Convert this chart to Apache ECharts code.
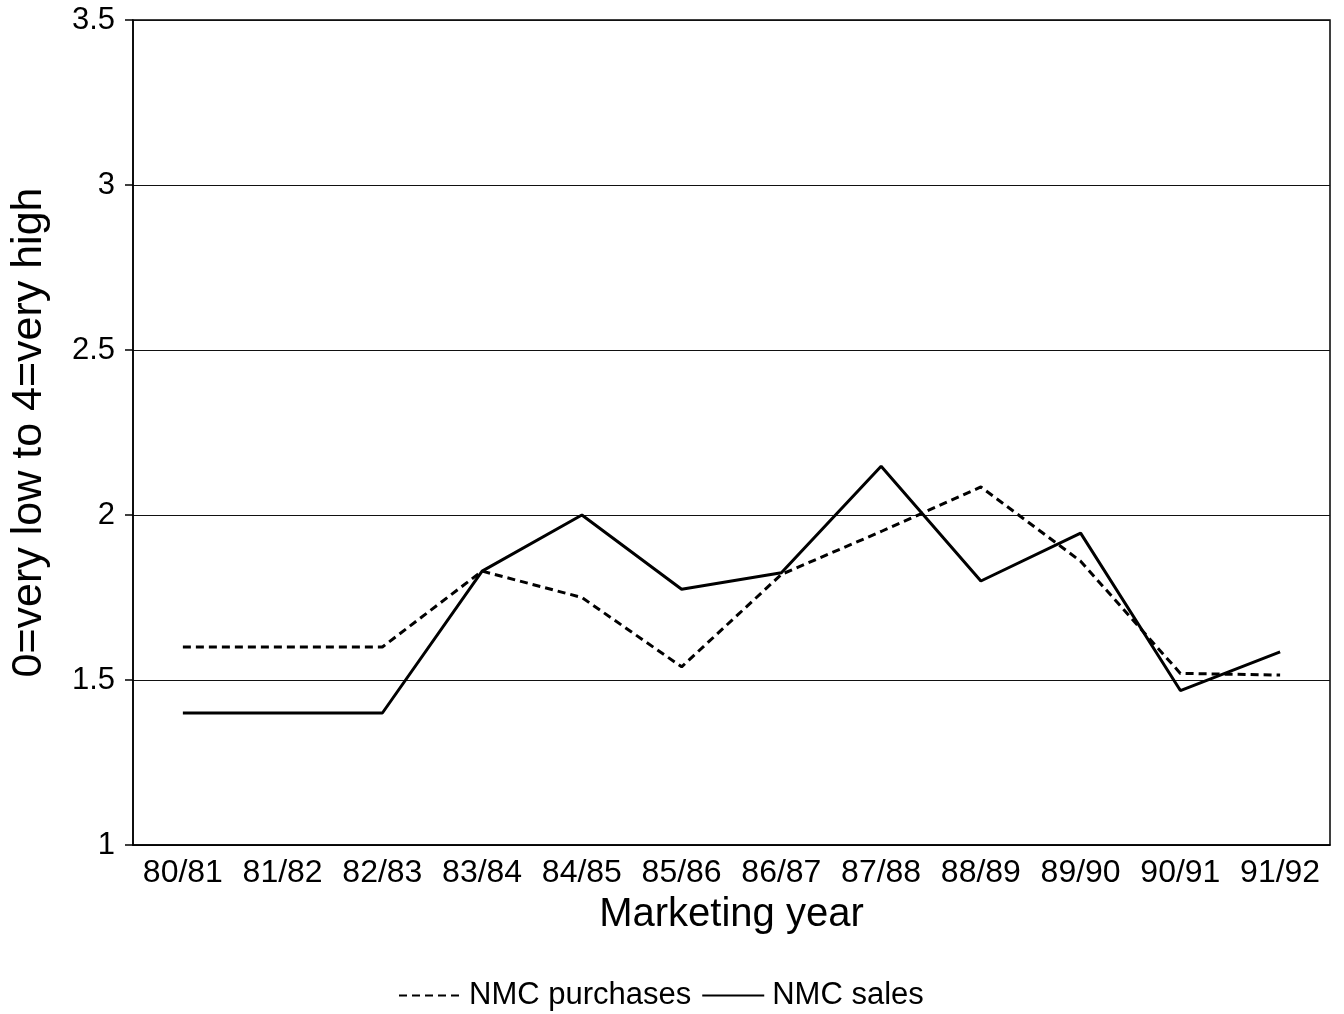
<!DOCTYPE html>
<html>
<head>
<meta charset="utf-8">
<script src="https://cdn.jsdelivr.net/npm/echarts@6/dist/echarts.min.js"></script>
<style>
html,body{margin:0;padding:0;background:#fff;}
#chart{width:1344px;height:1014px;}
</style>
</head>
<body>
<div id="chart"></div>
<script>
var categories = ['80/81','81/82','82/83','83/84','84/85','85/86','86/87','87/88','88/89','89/90','90/91','91/92'];
var purchases = [1.6, 1.6, 1.6, 1.83, 1.75, 1.54, 1.82, 1.95, 2.085, 1.86, 1.52, 1.515];
var sales = [1.4, 1.4, 1.4, 1.83, 2.0, 1.775, 1.825, 2.148, 1.8, 1.945, 1.468, 1.585];
var seriesNames = ['NMC purchases', 'NMC sales'];
var xTitle = 'Marketing year';
var yTitle = '0=very low to 4=very high';

var font = 'Liberation Sans, Arial, Helvetica, sans-serif';
var chart = echarts.init(document.getElementById('chart'), null, {renderer:'canvas'});
chart.setOption({
  animation: false,
  backgroundColor: '#fff',
  grid: {left:130, right:14, top:20, bottom:169, show:true, borderColor:'#000', borderWidth:1.5, backgroundColor:'transparent'},
  legend: {
    bottom: -2, left: 393,
    itemWidth: 62, itemHeight: 14, itemGap: 10,
    itemStyle: {opacity: 0},
    textStyle: {fontFamily: font, fontSize: 31, color:'#000', padding:[0,0,0,3]},
    data: [
      {name: seriesNames[0]},
      {name: seriesNames[1]}
    ]
  },
  xAxis: {
    type: 'category',
    data: categories,
    boundaryGap: true,
    name: xTitle,
    nameLocation: 'middle',
    nameGap: 50,
    nameTextStyle: {fontFamily: font, fontSize: 40, color:'#000'},
    axisLine: {lineStyle:{color:'#000', width:1.5}},
    axisTick: {alignWithLabel:true, length:8, lineStyle:{color:'#000', width:1.5}},
    axisLabel: {fontFamily: font, fontSize: 32, color:'#000', margin: 12, interval: 0},
    splitLine: {show:false}
  },
  yAxis: {
    type: 'value',
    min: 1, max: 3.5, interval: 0.5,
    name: yTitle,
    nameLocation: 'middle',
    nameGap: 82,
    nameTextStyle: {fontFamily: font, fontSize: 43, color:'#000'},
    axisLine: {show:true, lineStyle:{color:'#000', width:1.5}},
    axisTick: {show:true, length:8, lineStyle:{color:'#000', width:1.5}},
    axisLabel: {fontFamily: font, fontSize: 31, color:'#000', margin: 18},
    splitLine: {show:true, lineStyle:{color:'#111', width:1.2}}
  },
  series: [
    {
      name: seriesNames[0], type: 'line', data: purchases,
      symbol: 'none', showSymbol: false,
      lineStyle: {color:'#000', width:3, type:[8,5]},
      itemStyle: {color:'#000'}
    },
    {
      name: seriesNames[1], type: 'line', data: sales,
      symbol: 'none', showSymbol: false,
      lineStyle: {color:'#000', width:3, type:'solid'},
      itemStyle: {color:'#000'}
    }
  ]
});
</script>
</body>
</html>
